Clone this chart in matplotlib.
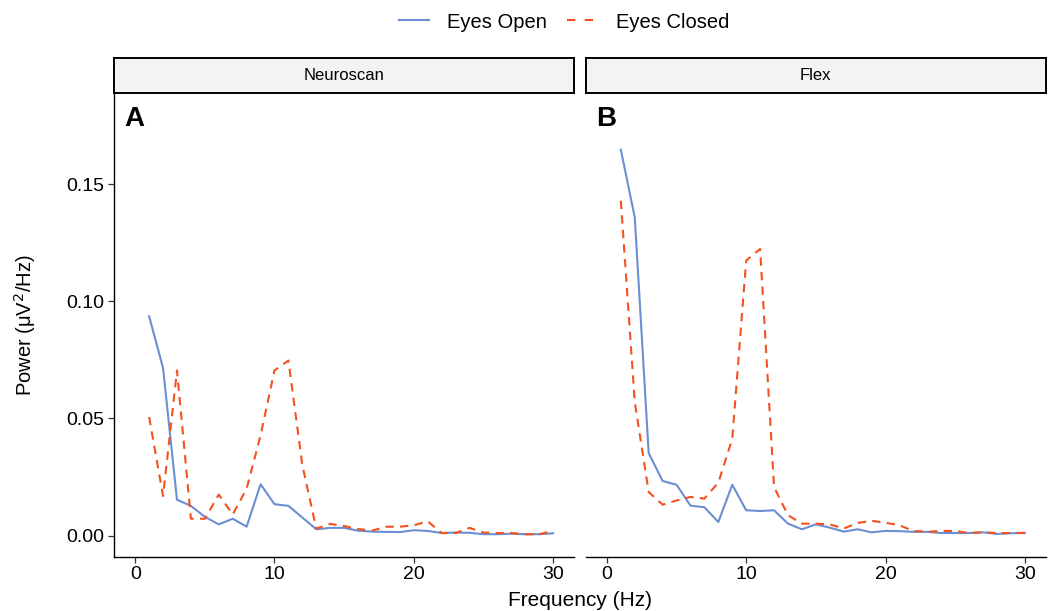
import numpy as np
import matplotlib.pyplot as plt
import matplotlib as mpl
from matplotlib.lines import Line2D

mpl.rcParams.update({
    'font.family':     ['Liberation Sans', 'DejaVu Sans'],
    'mathtext.fontset': 'dejavusans',
    'axes.linewidth':  1.0,
})

# ── Data ──────────────────────────────────────────────────────────────────────
freq = np.arange(1, 31)

neuroscan_open = [0.0936, 0.0715, 0.0153, 0.0127, 0.0080, 0.0048, 0.0072, 0.0038,
                  0.0219, 0.0134, 0.0127, 0.0077, 0.0027, 0.0033, 0.0033, 0.0021,
                  0.0017, 0.0016, 0.0015, 0.0023, 0.0020, 0.0011, 0.0013, 0.0012,
                  0.0006, 0.0006, 0.0008, 0.0006, 0.0006, 0.0010]
neuroscan_closed = [0.0506, 0.0169, 0.0705, 0.0072, 0.0072, 0.0175, 0.0090, 0.0200,
                    0.0428, 0.0705, 0.0747, 0.0300, 0.0030, 0.0050, 0.0041, 0.0028,
                    0.0021, 0.0038, 0.0038, 0.0044, 0.0061, 0.0011, 0.0011, 0.0033,
                    0.0013, 0.0011, 0.0011, 0.0006, 0.0006, 0.0020]
flex_open = [0.1647, 0.1358, 0.0352, 0.0233, 0.0217, 0.0128, 0.0121, 0.0058,
             0.0217, 0.0108, 0.0105, 0.0108, 0.0051, 0.0027, 0.0048, 0.0034,
             0.0017, 0.0027, 0.0014, 0.0020, 0.0019, 0.0016, 0.0016, 0.0011,
             0.0011, 0.0011, 0.0014, 0.0007, 0.0010, 0.0011]
flex_closed = [0.1429, 0.0570, 0.0186, 0.0132, 0.0150, 0.0165, 0.0158, 0.0226,
               0.0413, 0.1174, 0.1223, 0.0207, 0.0087, 0.0051, 0.0051, 0.0048,
               0.0030, 0.0054, 0.0063, 0.0055, 0.0044, 0.0020, 0.0016, 0.0020,
               0.0020, 0.0011, 0.0014, 0.0011, 0.0011, 0.0012]

panels = ['Neuroscan', 'Flex']
tags = ['A', 'B']
series_labels = ['Eyes Open', 'Eyes Closed']
x_ticks = [0, 10, 20, 30]
y_ticks = [0.00, 0.05, 0.10, 0.15]

C_OPEN = '#6b8fd2'
C_CLOSED = '#f4511e'
LW = 1.5
DASH = (0, (4, 3))

# ── Figure ────────────────────────────────────────────────────────────────────
W, H = 1052, 611
fig = plt.figure(figsize=(W / 100, H / 100), dpi=100)

def fx(px):
    return px / W

def fy(py):
    return 1 - py / H

panel_left = [114.3, 586.0]
panel_w = 459.7
p_top, p_bot = 92.7, 556.7
s_top = 58.3

data = [(neuroscan_open, neuroscan_closed), (flex_open, flex_closed)]

for i, (name, tag, (yo, yc)) in enumerate(zip(panels, tags, data)):
    x0 = panel_left[i]
    ax = fig.add_axes([fx(x0), fy(p_bot), fx(panel_w), fy(p_top) - fy(p_bot)])
    ax.plot(freq, yo, color=C_OPEN, lw=LW, solid_joinstyle='round')
    ax.plot(freq, yc, color=C_CLOSED, lw=LW, ls=DASH)
    ax.set_xlim(-1.5, 31.5)
    ax.set_ylim(-0.009, 0.189)
    ax.set_xticks(x_ticks)
    ax.set_yticks(y_ticks)
    ax.tick_params(length=4, width=0.9, color='#333333', labelsize=14,
                   labelcolor='black', pad=3)
    ax.yaxis.set_major_formatter(mpl.ticker.FormatStrFormatter('%.2f'))
    for s in ['top', 'right']:
        ax.spines[s].set_visible(False)
    if i == 1:
        ax.spines['left'].set_visible(False)
        ax.tick_params(axis='y', left=False, labelleft=False)
    ax.text(10 / panel_w, 1 - (126 - p_top) / (p_bot - p_top), tag,
            transform=ax.transAxes, fontsize=20, fontweight='bold',
            ha='left', va='baseline')

    # facet strip
    sax = fig.add_axes([fx(x0), fy(p_top), fx(panel_w), fy(s_top) - fy(p_top)])
    sax.set_facecolor('#f2f3f5')
    sax.set_xticks([])
    sax.set_yticks([])
    for s in sax.spines.values():
        s.set_color('black')
        s.set_linewidth(1.4)
    sax.text(0.5, 0.5, name, ha='center', va='center', fontsize=12,
             transform=sax.transAxes)

fig.text(fx(25), fy(324.7), 'Power (\u03bcV$^2$/Hz)', rotation=90,
         ha='center', va='center', fontsize=14.5)
fig.text(fx(580), fy(600), 'Frequency (Hz)', ha='center', va='center',
         fontsize=15)

# legend key: two short dashes like the reference
handles = [Line2D([], [], color=C_OPEN, lw=LW),
           Line2D([], [], color=C_CLOSED, lw=LW, ls=(0, (4, 4.5)))]
fig.legend(handles, series_labels, loc='center', ncol=2,
           bbox_to_anchor=(fx(564), fy(22)), frameon=False, fontsize=14.5,
           handlelength=1.5, handletextpad=0.9, columnspacing=1.0)

fig.savefig('out.png', dpi=100)
